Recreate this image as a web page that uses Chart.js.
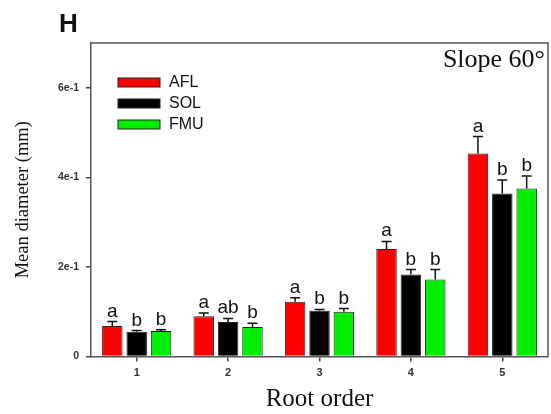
<!DOCTYPE html>
<html>
<head>
<meta charset="utf-8">
<script src="https://cdn.jsdelivr.net/npm/chart.js@4/dist/chart.umd.min.js"></script>
<style>
html,body{margin:0;padding:0;background:#fff;}
#wrap{width:551px;height:414px;}
</style>
</head>
<body>
<div id="wrap"><canvas id="c" width="551" height="414"></canvas></div>
<script>
// ---- data ----
const categories = ['1', '2', '3', '4', '5'];
const seriesNames = ['AFL', 'SOL', 'FMU'];
const aflMean = [0.068, 0.090, 0.122, 0.240, 0.453];
const solMean = [0.055, 0.077, 0.102, 0.183, 0.364];
const fmuMean = [0.057, 0.066, 0.100, 0.172, 0.375];
const aflErr = [0.010, 0.007, 0.009, 0.017, 0.038];
const solErr = [0.003, 0.008, 0.003, 0.011, 0.030];
const fmuErr = [0.003, 0.008, 0.007, 0.022, 0.028];
const aflLetters = ['a', 'a', 'a', 'a', 'a'];
const solLetters = ['b', 'ab', 'b', 'b', 'b'];
const fmuLetters = ['b', 'b', 'b', 'b', 'b'];
const yTickValues = [0, 0.2, 0.4, 0.6];
const yTickLabels = ['0', '2e-1', '4e-1', '6e-1'];

const colors = ['#ff0000', '#000000', '#00ee00'];
const errs = [aflErr, solErr, fmuErr];
const letters = [aflLetters, solLetters, fmuLetters];

const overlay = {
  id: 'overlay',
  afterDatasetsDraw(chart) {
    const ctx = chart.ctx;
    const ys = chart.scales.y;
    const ca = chart.chartArea;
    ctx.save();
    // error bars + letters
    chart.data.datasets.forEach((ds, i) => {
      const meta = chart.getDatasetMeta(i);
      meta.data.forEach((el, j) => {
        const top = ys.getPixelForValue(ds.data[j] + errs[i][j]);
        ctx.strokeStyle = '#111';
        ctx.lineWidth = 1.5;
        ctx.beginPath();
        ctx.moveTo(el.x, el.y);
        ctx.lineTo(el.x, top);
        ctx.moveTo(el.x - 5, top);
        ctx.lineTo(el.x + 5, top);
        ctx.stroke();
        ctx.fillStyle = '#111';
        ctx.font = '19px "Liberation Sans", Arial, sans-serif';
        ctx.textAlign = 'center';
        ctx.textBaseline = 'alphabetic';
        ctx.fillText(letters[i][j], el.x, top - 5);
      });
    });
    // frame (top and right)
    ctx.strokeStyle = '#555';
    ctx.lineWidth = 1.5;
    ctx.beginPath();
    ctx.moveTo(ca.left, ca.top);
    ctx.lineTo(ca.right, ca.top);
    ctx.lineTo(ca.right, ca.bottom);
    ctx.stroke();
    // legend
    chart.data.datasets.forEach((ds, i) => {
      const y0 = 78 + i * 21;
      ctx.fillStyle = ds.backgroundColor;
      ctx.fillRect(118, y0, 42, 9);
      ctx.strokeStyle = '#222';
      ctx.lineWidth = 1;
      ctx.strokeRect(118, y0, 42, 9);
      ctx.fillStyle = '#111';
      ctx.font = '16px "Liberation Sans", Arial, sans-serif';
      ctx.textAlign = 'left';
      ctx.textBaseline = 'middle';
      ctx.fillText(ds.label, 169, y0 + 5);
    });
    // panel annotation
    ctx.fillStyle = '#111';
    ctx.font = '26px "Liberation Serif", "Times New Roman", serif';
    ctx.textAlign = 'right';
    ctx.textBaseline = 'alphabetic';
    ctx.fillText('Slope 60°', 545, 67);
    ctx.font = 'bold 26px "Liberation Sans", Arial, sans-serif';
    ctx.textAlign = 'left';
    ctx.fillText('H', 59, 32);
    ctx.restore();
  }
};

new Chart(document.getElementById('c'), {
  type: 'bar',
  data: {
    labels: categories,
    datasets: [
      { label: seriesNames[0], data: aflMean, backgroundColor: colors[0], borderColor: '#222', borderWidth: 1 },
      { label: seriesNames[1], data: solMean, backgroundColor: colors[1], borderColor: '#222', borderWidth: 1 },
      { label: seriesNames[2], data: fmuMean, backgroundColor: colors[2], borderColor: '#222', borderWidth: 1 }
    ]
  },
  options: {
    responsive: false,
    animation: false,
    devicePixelRatio: 1,
    categoryPercentage: 0.8,
    barPercentage: 0.84,
    layout: { padding: { top: 43, right: 3, left: 0, bottom: 0 } },
    plugins: { legend: { display: false }, tooltip: { enabled: false } },
    scales: {
      x: {
        offset: true,
        grid: { display: true, drawOnChartArea: false, offset: false, tickLength: 5, color: '#444', lineWidth: 1.5 },
        border: { display: true, color: '#555', width: 1.5 },
        ticks: { color: '#333', padding: 5, font: { family: '"Liberation Sans", Arial, sans-serif', size: 11, weight: 'bold' } },
        title: { display: true, text: 'Root order', color: '#111', padding: { top: 0, bottom: 0 },
                 font: { family: '"Liberation Serif", "Times New Roman", serif', size: 25 } },
        afterFit(scale) { scale.height = 57.5; }
      },
      y: {
        min: 0, max: 0.7,
        grid: { display: true, drawOnChartArea: false, tickLength: 5, color: '#444', lineWidth: 1.5 },
        border: { display: true, color: '#555', width: 1.5 },
        afterBuildTicks(axis) { axis.ticks = yTickValues.map(v => ({ value: v })); },
        ticks: {
          color: '#333', padding: 7,
          font: { family: '"Liberation Sans", Arial, sans-serif', size: 10.5, weight: 'bold' },
          callback(v, idx) { return yTickLabels[idx]; }
        },
        title: { display: true, text: 'Mean diameter (mm)', color: '#111', padding: { top: 12, bottom: 0 },
                 font: { family: '"Liberation Serif", "Times New Roman", serif', size: 18.5 } },
        afterFit(scale) { scale.width = 91; }
      }
    }
  },
  plugins: [overlay]
});
</script>
</body>
</html>
